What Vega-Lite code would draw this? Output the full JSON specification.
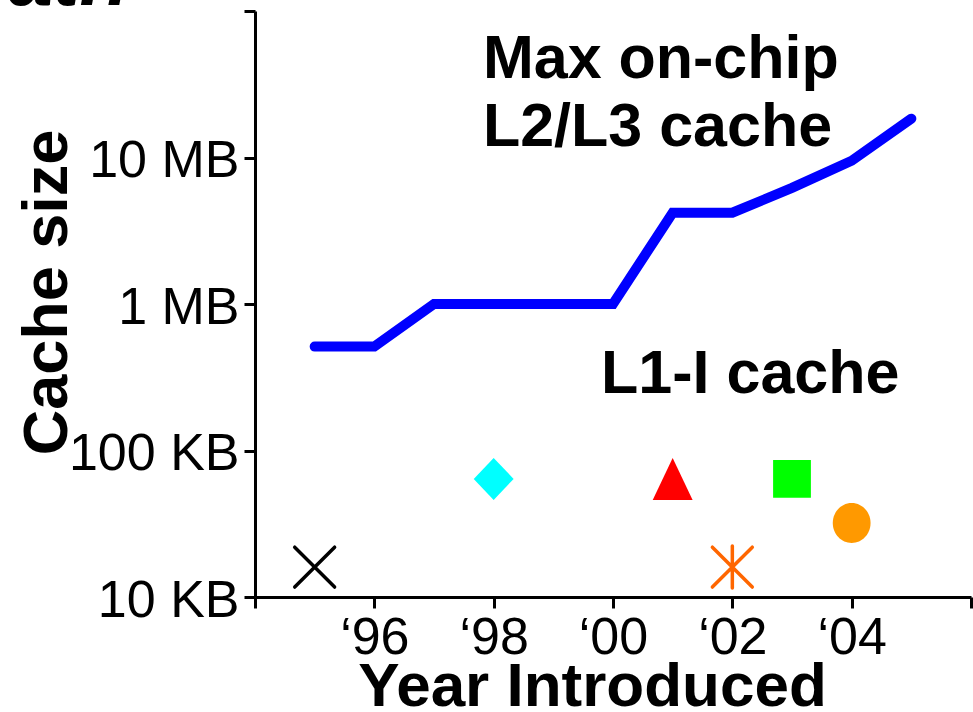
{
  "$schema": "https://vega.github.io/schema/vega-lite/v6.json",
  "width": 716,
  "height": 586,
  "autosize": {"type": "none"},
  "padding": {"left": 255, "top": 11, "right": 2, "bottom": 115},
  "background": "white",
  "title": {"text": "Path", "anchor": "start", "frame": "group", "dx": -300, "dy": 100, "fontSize": 80, "fontStyle": "italic", "fontWeight": "bold", "font": "Liberation Sans", "color": "black", "baseline": "alphabetic", "offset": 3},
  "config": {
    "view": {"stroke": null},
    "font": "Liberation Sans",
    "axis": {"domainColor": "black", "domainWidth": 3, "tickColor": "black", "tickWidth": 3, "tickSize": 11, "grid": false, "labelColor": "black", "labelFont": "Liberation Sans", "labelFontSize": 52, "titleColor": "black", "titleFont": "Liberation Sans", "titleFontWeight": "bold", "labelOverlap": false, "labelBound": false, "labelFlush": false}
  },
  "datasets": {
    "l2l3": [
      {"year": 1995, "kb": 512},
      {"year": 1996, "kb": 512},
      {"year": 1997, "kb": 1000},
      {"year": 1998, "kb": 1000},
      {"year": 1999, "kb": 1000},
      {"year": 2000, "kb": 1000},
      {"year": 2001, "kb": 4200},
      {"year": 2002, "kb": 4200},
      {"year": 2003, "kb": 6200},
      {"year": 2004, "kb": 9500},
      {"year": 2005, "kb": 18400}
    ],
    "l1i": [
      {"chip": "Processor A", "year": 1995, "kb": 16},
      {"chip": "Processor B", "year": 1998, "kb": 64},
      {"chip": "Processor C", "year": 2001, "kb": 64},
      {"chip": "Processor D", "year": 2002, "kb": 16},
      {"chip": "Processor E", "year": 2003, "kb": 64},
      {"chip": "Processor F", "year": 2004, "kb": 32}
    ],
    "notes": [
      {"label": "Max on-chip", "year": 1997.82, "kb": 35100},
      {"label": "L2/L3 cache", "year": 1997.82, "kb": 12060},
      {"label": "L1-I cache", "year": 1999.8, "kb": 246}
    ]
  },
  "encoding": {
    "x": {
      "field": "year", "type": "quantitative",
      "scale": {"domain": [1994, 2006], "nice": false, "zero": false},
      "axis": {
        "values": [1994, 1996, 1998, 2000, 2002, 2004, 2006],
        "labelExpr": "datum.value == 1994 || datum.value == 2006 ? '' : '‘' + slice(toString(datum.value), 2)",
        "labelPadding": 4,
        "title": "Year Introduced",
        "titleFontSize": 62,
        "titleX": 337,
        "titleY": 108,
        "titleAlign": "center",
        "titleBaseline": "alphabetic",
        "titleAnchor": null
      }
    },
    "y": {
      "field": "kb", "type": "quantitative",
      "scale": {"type": "log", "domain": [10, 100000], "nice": false},
      "axis": {
        "values": [10, 100, 1000, 10000, 100000],
        "labelExpr": "datum.value == 10 ? '10 KB' : datum.value == 100 ? '100 KB' : datum.value == 1000 ? '1 MB' : datum.value == 10000 ? '10 MB' : ''",
        "labelPadding": 5,
        "labelBaseline": "middle",
        "labelOffset": 3,
        "title": "Cache size",
        "titleFontSize": 63,
        "titleAngle": -90,
        "titleX": -189,
        "titleY": 281,
        "titleAlign": "center",
        "titleBaseline": "alphabetic"
      }
    }
  },
  "layer": [
    {
      "data": {"name": "l2l3"},
      "mark": {"type": "line", "color": "#0000ff", "strokeWidth": 10, "strokeCap": "round"}
    },
    {
      "data": {"name": "l1i"},
      "transform": [{"filter": {"field": "chip", "oneOf": ["Processor B", "Processor C", "Processor E", "Processor F"]}}],
      "mark": {"type": "point", "filled": true, "opacity": 1, "size": 1764, "strokeWidth": 0},
      "encoding": {
        "color": {"field": "chip", "type": "nominal", "legend": null,
          "scale": {"domain": ["Processor A", "Processor B", "Processor C", "Processor D", "Processor E", "Processor F"],
                    "range": ["#000000", "#00ffff", "#ff0000", "#ff6600", "#00ff00", "#ff9900"]}},
        "shape": {"field": "chip", "type": "nominal", "legend": null,
          "scale": {"domain": ["Processor A", "Processor B", "Processor C", "Processor D", "Processor E", "Processor F"],
                    "range": ["M-0.95,-0.95L0.95,0.95M-0.95,0.95L0.95,-0.95", "M0,-1L0.95,0L0,1L-0.95,0Z", "M0,-1L0.95,1L-0.95,1Z", "M-0.95,-0.95L0.95,0.95M-0.95,0.95L0.95,-0.95M0,-1L0,1", "M-0.9,-0.9L0.9,-0.9L0.9,0.9L-0.9,0.9Z", "M0.9,0A0.9,0.95 0 1,1 -0.9,0A0.9,0.95 0 1,1 0.9,0Z"]}}
      }
    },
    {
      "data": {"name": "l1i"},
      "transform": [{"filter": {"field": "chip", "oneOf": ["Processor A", "Processor D"]}}],
      "mark": {"type": "point", "filled": false, "opacity": 1, "size": 1764, "strokeWidth": 3.5, "strokeCap": "round"},
      "encoding": {
        "color": {"field": "chip", "type": "nominal", "legend": null},
        "shape": {"field": "chip", "type": "nominal", "legend": null}
      }
    },
    {
      "data": {"name": "notes"},
      "mark": {"type": "text", "align": "left", "baseline": "alphabetic", "fontSize": 61, "fontWeight": "bold", "font": "Liberation Sans", "color": "black"},
      "encoding": {"text": {"field": "label", "type": "nominal"}}
    }
  ]
}
